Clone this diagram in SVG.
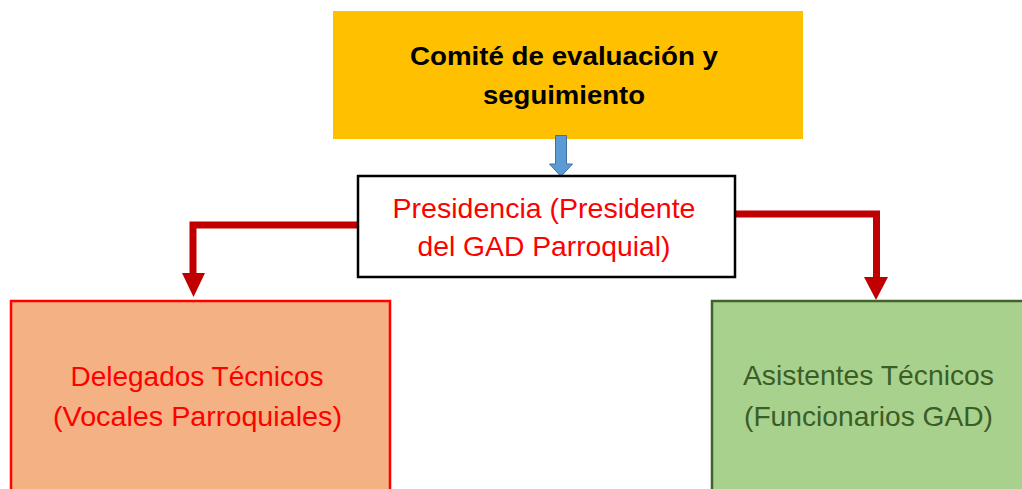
<svg xmlns="http://www.w3.org/2000/svg" width="1022" height="489" viewBox="0 0 1022 489">
<style>
text{font-family:"Liberation Sans",Arial,sans-serif;font-size:28px;text-anchor:middle}
.b{font-weight:bold;fill:#000;font-size:26px}
.r{fill:#FF0000}
.g{fill:#3B5E27}
.conn{fill:none;stroke:#C00000;stroke-width:7}
.head{fill:#C00000}
</style>
<rect width="1022" height="489" fill="#fff"/>
<g id="comite">
<rect x="333" y="11" width="470" height="128" fill="#FFC000"/>
<text class="b" x="564" y="65" textLength="308" lengthAdjust="spacingAndGlyphs">Comité de evaluación y</text>
<text class="b" x="564" y="104" textLength="162" lengthAdjust="spacingAndGlyphs">seguimiento</text>
</g>
<g id="connectors">
<path d="M555.5,135.5 H566.5 V164 H572.5 L561,176.5 L549.5,164 H555.5 Z" fill="#5B9BD5" stroke="#41719C" stroke-width="1"/>
<polyline class="conn" points="358,225 193,225 193,274"/>
<polygon class="head" points="182,273 205,273 193.5,297"/>
<polyline class="conn" points="735,214 876.5,214 876.5,278"/>
<polygon class="head" points="864,277 888,277 876,300"/>
</g>
<g id="presidencia">
<rect x="358" y="176" width="377" height="101" fill="#fff" stroke="#000" stroke-width="2.5"/>
<text class="r" x="544" y="218" textLength="303" lengthAdjust="spacingAndGlyphs">Presidencia (Presidente</text>
<text class="r" x="544" y="256" textLength="253" lengthAdjust="spacingAndGlyphs">del GAD Parroquial)</text>
</g>
<g id="delegados">
<rect x="11" y="301" width="379" height="200" fill="#F4B183" stroke="#FF0000" stroke-width="2.5"/>
<text class="r" x="197" y="386" textLength="253" lengthAdjust="spacingAndGlyphs">Delegados Técnicos</text>
<text class="r" x="197.5" y="426" textLength="289" lengthAdjust="spacingAndGlyphs">(Vocales Parroquiales)</text>
</g>
<g id="asistentes">
<rect x="712" y="301" width="320" height="200" fill="#A9D18E" stroke="#42622B" stroke-width="2.5"/>
<text class="g" x="868.5" y="385" textLength="251" lengthAdjust="spacingAndGlyphs">Asistentes Técnicos</text>
<text class="g" x="868.5" y="426" textLength="249" lengthAdjust="spacingAndGlyphs">(Funcionarios GAD)</text>
</g>
</svg>
